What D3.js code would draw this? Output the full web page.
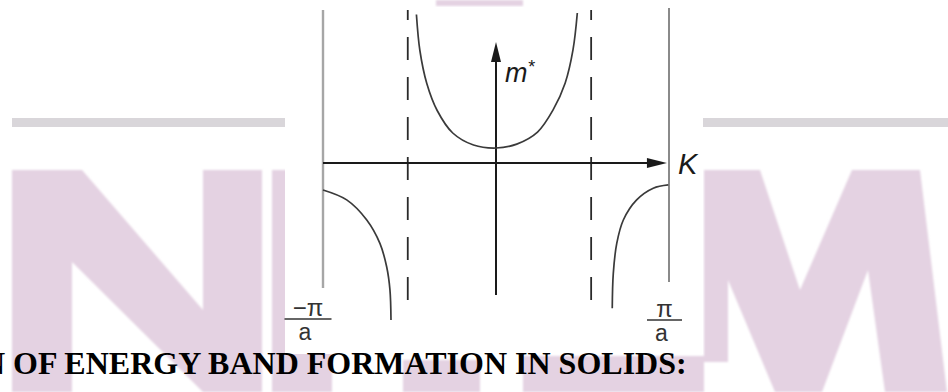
<!DOCTYPE html>
<html>
<head>
<meta charset="utf-8">
<script src="https://cdn.jsdelivr.net/npm/d3@7"></script>
<style>
  html, body { margin: 0; padding: 0; background: #fff; overflow: hidden; }
  svg { display: block; }
</style>
</head>
<body>
<svg id="fig" width="948" height="392"></svg>
<script>
// Effective mass m* across the first Brillouin zone, K in units of π/a.
const zoneEdges = [-1, 1];
const edgeNumerators = ["\u2212\u03c0", "\u03c0"];
const edgeDenominator = "a";
const inflectionK = [-0.51, 0.55];

// Central band: m* positive, diverging toward the inflection points.
const centralK = [-0.46, -0.44, -0.40, -0.34, -0.25, -0.13, 0, 0.12, 0.24, 0.33, 0.40, 0.445, 0.47];
const centralM = [4.95, 3.75, 2.65, 1.75, 1.0, 0.6, 0.5, 0.63, 1.03, 1.77, 2.67, 3.77, 5.0];

// Near the zone edges: m* negative.
const leftK = [-1.0, -0.863, -0.747, -0.671, -0.632, -0.613, -0.607];
const leftM = [-0.9, -1.23, -1.9, -2.68, -3.46, -4.23, -5.23];
const rightK = [0.672, 0.678, 0.698, 0.736, 0.813, 0.909, 0.996];
const rightM = [-4.84, -3.68, -2.68, -1.9, -1.23, -0.84, -0.73];

const kLabel = "K";
const mLabel = "m";
const mSup = "*";
const caption = "N OF ENERGY BAND FORMATION IN SOLIDS:";

const svg = d3.select("#fig");
const x = d3.scaleLinear().domain([-1, 1]).range([323, 669]);
const y = d3.scaleLinear().domain([0, 5]).range([163, 13]);

// ---- background watermark letters and rules ----
const wmColor = "#e4d2e2";
const defs = svg.append("defs");
defs.append("filter").attr("id", "soft")
  .append("feGaussianBlur").attr("stdDeviation", 1.1);

const wm = svg.append("g").attr("fill", wmColor).attr("filter", "url(#soft)");
const shapes = [
  // N
  [[12,170],[82,170],[203,310],[203,170],[262,170],[262,392],[203,392],[72,262],[72,392],[12,392]],
  // I
  [[272,170],[332,170],[332,392],[272,392]],
  // stem under the caption
  [[403,360],[480,360],[480,392],[403,392]],
  // band behind the caption's right part
  [[523,356],[704,356],[704,392],[523,392]],
  // M
  [[704,170],[760,170],[800,290],[852,170],[920,170],[947,392],[885,392],[868,270],[822,392],[775,392],[728,280],[728,362],[704,362]],
  // top fragment
  [[436,0],[523,0],[523,6],[436,6]]
];
wm.selectAll("path").data(shapes).join("path")
  .attr("d", d => "M" + d.map(p => p.join(",")).join("L") + "Z");

svg.append("g").attr("fill", "#d9d6da").selectAll("rect")
  .data([[12, 273], [703, 245]]).join("rect")
  .attr("x", d => d[0]).attr("y", 118).attr("width", d => d[1]).attr("height", 9);

// white panel holding the diagram
svg.append("rect").attr("x", 285).attr("y", 7).attr("width", 418).attr("height", 347).attr("fill", "#fff");

// ---- diagram ----
const g = svg.append("g");

// zone boundaries
g.append("line").attr("x1", x(zoneEdges[0])).attr("x2", x(zoneEdges[0]))
  .attr("y1", y(5.1)).attr("y2", y(-4.17))
  .attr("stroke", "#a6a6a6").attr("stroke-width", 2.4);
g.append("line").attr("x1", x(zoneEdges[1])).attr("x2", x(zoneEdges[1]))
  .attr("y1", y(5.17)).attr("y2", y(-3.97))
  .attr("stroke", "#8a8a8a").attr("stroke-width", 2);

// inflection-point asymptotes
g.selectAll("line.dash").data(inflectionK).join("line").attr("class", "dash")
  .attr("x1", d => x(d)).attr("x2", d => x(d))
  .attr("y1", y(5.1)).attr("y2", y(-4.63))
  .attr("stroke", "#2a2a2a").attr("stroke-width", 1.8)
  .attr("stroke-dasharray", "23 17").attr("stroke-dashoffset", 13);

// K axis
const kTip = 0.988;
g.append("line").attr("x1", x(-1)).attr("x2", x(kTip) - 10)
  .attr("y1", y(0)).attr("y2", y(0)).attr("stroke", "#1a1a1a").attr("stroke-width", 2);
g.append("path")
  .attr("d", `M${x(kTip)},${y(0)}L${x(kTip) - 20},${y(0) - 5}L${x(kTip) - 20},${y(0) + 5}Z`)
  .attr("fill", "#1a1a1a");

// m* axis
const mTip = 4.03;
g.append("line").attr("x1", x(0)).attr("x2", x(0))
  .attr("y1", y(-4.4)).attr("y2", y(mTip) + 10).attr("stroke", "#1a1a1a").attr("stroke-width", 2);
g.append("path")
  .attr("d", `M${x(0)},${y(mTip)}L${x(0) - 5},${y(mTip) + 20}L${x(0) + 5},${y(mTip) + 20}Z`)
  .attr("fill", "#1a1a1a");

// curves
const line = d3.line().x(d => x(d[0])).y(d => y(d[1])).curve(d3.curveCatmullRom.alpha(0.5));
const series = [
  d3.zip(centralK, centralM),
  d3.zip(leftK, leftM),
  d3.zip(rightK, rightM)
];
g.selectAll("path.curve").data(series).join("path").attr("class", "curve")
  .attr("d", line).attr("fill", "none")
  .attr("stroke", "#3a3a3a").attr("stroke-width", 1.7);

// axis labels
g.append("text").attr("x", 678).attr("y", 174)
  .attr("font-family", "'Liberation Sans', Arial, sans-serif")
  .attr("font-style", "italic").attr("font-size", 29).attr("fill", "#1a1a1a")
  .text(kLabel);
const mt = g.append("text").attr("x", 505).attr("y", 82)
  .attr("font-family", "'Liberation Sans', Arial, sans-serif")
  .attr("font-style", "italic").attr("font-size", 27).attr("fill", "#1a1a1a");
mt.append("tspan").text(mLabel);
mt.append("tspan").attr("dy", -9).attr("font-size", 18).text(mSup);

// zone-edge fraction labels
const fracOffsets = [-15, -4.5];
const fracLine = [[23.5, 319], [17.5, 320]];
const fr = g.selectAll("g.frac").data(zoneEdges).join("g").attr("class", "frac")
  .attr("transform", (d, i) => `translate(${x(d) + fracOffsets[i]},0)`)
  .attr("font-family", "'Liberation Sans', Arial, sans-serif").attr("fill", "#333");
fr.append("text").attr("text-anchor", "middle").attr("font-size", 24)
  .attr("y", (d, i) => fracLine[i][1] - 3).text((d, i) => edgeNumerators[i]);
fr.append("line")
  .attr("x1", (d, i) => -fracLine[i][0]).attr("x2", (d, i) => fracLine[i][0])
  .attr("y1", (d, i) => fracLine[i][1]).attr("y2", (d, i) => fracLine[i][1])
  .attr("stroke", "#333").attr("stroke-width", 1.6);
fr.append("text").attr("text-anchor", "middle").attr("font-size", 23)
  .attr("x", -3).attr("y", (d, i) => fracLine[i][1] + 21).text(edgeDenominator);

// caption
svg.append("text").attr("x", -18).attr("y", 374)
  .attr("font-family", "'Liberation Serif', 'Times New Roman', serif")
  .attr("font-weight", "bold").attr("font-size", 32).attr("fill", "#000")
  .text(caption);
</script>
</body>
</html>
